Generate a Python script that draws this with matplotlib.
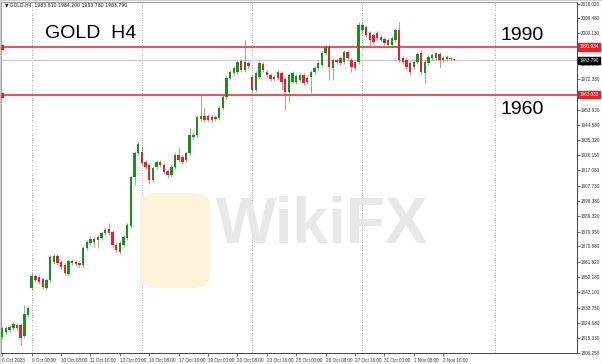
import matplotlib
matplotlib.use("Agg")
import matplotlib.pyplot as plt
import matplotlib.transforms as mtransforms
from matplotlib.patches import FancyBboxPatch, Rectangle
import numpy as np

# ---------------- data ----------------
opens = [1815.96, 1818.99, 1820.21, 1821.42, 1823.24, 1823.24, 1816.56, 1829.31, 1845.69, 1852.98,
         1852.37, 1851.15, 1845.69, 1850.55, 1861.47, 1865.11, 1861.47, 1859.65, 1854.19, 1860.86,
         1861.47, 1860.86, 1859.65, 1869.96, 1873.00, 1875.42, 1874.82, 1876.03, 1879.07, 1881.49,
         1879.67, 1871.78, 1867.54, 1871.78, 1876.03, 1883.31, 1913.05, 1927.61, 1928.22, 1922.15,
         1920.33, 1911.23, 1919.11, 1922.15, 1920.33, 1916.69, 1914.26, 1919.11, 1926.40, 1925.18,
         1923.36, 1927.61, 1937.32, 1938.53, 1948.24, 1950.06, 1950.06, 1949.45, 1948.24, 1948.85,
         1954.91, 1961.59, 1973.12, 1976.15, 1976.76, 1983.44, 1977.97, 1982.22, 1973.73, 1965.84,
         1973.73, 1981.62, 1976.76, 1974.94, 1972.51, 1976.76, 1976.15, 1972.51, 1964.63, 1970.69,
         1970.69, 1971.91, 1974.94, 1973.12, 1973.73, 1976.76, 1979.19, 1981.01, 1988.29, 1991.93,
         1979.19, 1982.83, 1985.26, 1982.83, 1988.90, 1984.04, 1982.83, 1982.83, 2002.25, 2004.07,
         2000.43, 1999.21, 2000.43, 1998.00, 1996.78, 1993.14, 1993.14, 1996.18, 2002.25, 1985.26,
         1984.04, 1982.22, 1979.79, 1982.83, 1988.29, 1976.15, 1982.22, 1985.26, 1985.26, 1987.68,
         1984.04, 1984.65, 1985.26, 1983.81]
highs = [1822.63, 1822.63, 1823.24, 1825.06, 1824.45, 1824.45, 1835.33, 1834.72, 1854.80, 1854.19,
         1853.58, 1852.37, 1851.76, 1865.72, 1866.32, 1866.32, 1862.68, 1860.86, 1863.29, 1863.29,
         1862.68, 1862.08, 1871.18, 1874.82, 1877.25, 1876.64, 1877.85, 1880.28, 1882.10, 1885.13,
         1880.89, 1873.00, 1874.21, 1877.85, 1885.13, 1914.26, 1928.82, 1934.28, 1931.86, 1923.36,
         1921.54, 1919.72, 1923.36, 1923.36, 1921.54, 1917.90, 1920.33, 1927.61, 1931.25, 1926.40,
         1928.82, 1942.78, 1939.74, 1950.67, 1962.80, 1955.52, 1951.27, 1950.67, 1950.67, 1956.14,
         1962.80, 1974.33, 1977.97, 1980.40, 1984.04, 1984.65, 1996.18, 1983.44, 1974.94, 1977.37,
         1983.44, 1982.83, 1977.97, 1976.15, 1974.94, 1977.97, 1977.37, 1973.73, 1976.15, 1977.37,
         1975.55, 1976.15, 1976.15, 1974.33, 1977.97, 1980.40, 1983.44, 1989.50, 1993.14, 1993.14,
         1985.26, 1985.26, 1986.47, 1990.11, 1990.11, 1985.26, 1984.04, 2007.10, 2007.10, 2005.28,
         2001.64, 2000.43, 2001.64, 1999.21, 1998.00, 1997.39, 1998.61, 2003.46, 2007.10, 1986.47,
         1985.26, 1983.44, 1984.04, 1988.90, 1990.11, 1984.04, 1987.08, 1988.29, 1988.90, 1988.90,
         1986.47, 1987.08, 1985.86, 1984.20]
lows = [1814.74, 1817.78, 1818.99, 1820.21, 1820.21, 1811.10, 1815.35, 1828.09, 1844.48, 1849.33,
        1848.12, 1845.08, 1844.48, 1849.33, 1860.26, 1859.65, 1857.22, 1853.58, 1852.98, 1859.65,
        1859.04, 1858.43, 1858.43, 1868.75, 1871.78, 1870.57, 1869.96, 1874.82, 1877.85, 1877.85,
        1870.57, 1867.54, 1866.32, 1870.57, 1874.82, 1882.10, 1908.19, 1926.40, 1920.33, 1917.90,
        1908.80, 1910.01, 1917.90, 1919.11, 1914.87, 1912.44, 1913.05, 1917.90, 1922.15, 1920.93,
        1922.15, 1926.40, 1936.10, 1937.32, 1947.03, 1946.42, 1946.42, 1946.42, 1947.03, 1947.63,
        1953.70, 1960.38, 1971.91, 1974.94, 1975.55, 1976.76, 1976.76, 1979.19, 1964.63, 1964.63,
        1972.51, 1976.76, 1973.73, 1971.30, 1971.30, 1971.91, 1965.84, 1953.70, 1958.56, 1969.48,
        1969.48, 1970.69, 1968.87, 1969.48, 1964.02, 1975.55, 1977.97, 1979.79, 1987.08, 1971.91,
        1971.91, 1981.62, 1981.01, 1981.62, 1984.04, 1976.76, 1977.97, 1981.62, 2001.03, 1998.00,
        1991.93, 1993.75, 1996.18, 1994.96, 1993.14, 1991.93, 1991.93, 1994.96, 1982.83, 1981.62,
        1978.58, 1974.94, 1978.58, 1981.62, 1975.55, 1970.09, 1981.01, 1984.04, 1984.04, 1979.19,
        1982.83, 1983.44, 1984.04, 1983.78]
closes = [1821.42, 1821.42, 1822.03, 1823.85, 1821.42, 1815.35, 1829.91, 1833.51, 1852.98, 1850.55,
          1849.33, 1846.30, 1850.55, 1864.50, 1865.11, 1860.86, 1858.43, 1854.80, 1862.08, 1862.08,
          1860.26, 1859.65, 1869.96, 1873.60, 1875.42, 1873.60, 1876.64, 1879.07, 1880.89, 1879.07,
          1871.78, 1868.75, 1873.00, 1876.64, 1883.92, 1913.05, 1927.61, 1933.07, 1921.54, 1919.11,
          1911.23, 1918.51, 1922.15, 1920.33, 1916.08, 1914.26, 1919.11, 1926.40, 1923.36, 1922.15,
          1927.61, 1938.53, 1938.53, 1949.45, 1950.06, 1947.63, 1947.63, 1947.63, 1949.45, 1954.91,
          1961.59, 1973.12, 1976.76, 1979.19, 1982.83, 1977.97, 1982.83, 1980.40, 1965.84, 1976.15,
          1982.22, 1977.97, 1974.94, 1972.51, 1973.73, 1973.12, 1970.69, 1964.63, 1974.94, 1976.15,
          1974.33, 1974.94, 1970.09, 1970.69, 1976.76, 1979.19, 1982.22, 1988.29, 1991.93, 1979.79,
          1984.04, 1984.04, 1982.22, 1988.90, 1985.26, 1979.79, 1979.19, 2005.28, 2005.28, 1999.21,
          1996.18, 1994.96, 1997.39, 1996.18, 1994.36, 1996.18, 1997.39, 2002.25, 1984.04, 1982.83,
          1979.79, 1976.76, 1982.83, 1987.68, 1976.76, 1982.83, 1985.86, 1987.08, 1988.29, 1984.04,
          1985.26, 1985.86, 1984.65, 1983.79]

time_labels = ["6 Oct 2023", "9 Oct 00:00", "10 Oct 08:00", "11 Oct 16:00", "13 Oct 00:00",
               "16 Oct 08:00", "17 Oct 16:00", "19 Oct 00:00", "20 Oct 08:00", "23 Oct 16:00",
               "25 Oct 00:00", "26 Oct 08:00", "27 Oct 16:00", "31 Oct 00:00", "1 Nov 08:00",
               "2 Nov 16:00"]
label_bars = [0, 8, 16, 24, 32, 40, 48, 56, 64, 72, 80, 88, 96, 104, 112, 120]
separator_bars = [8, 38, 68, 98, 134]

price_ticks = [2018.020, 2009.480, 2000.130, 1981.590, 1972.330, 1953.930, 1944.580, 1935.320,
               1926.150, 1917.080, 1907.730, 1898.380, 1889.320, 1879.950, 1870.880, 1861.520,
               1852.180, 1843.100, 1833.750, 1824.680, 1815.330, 1806.250]
level_lines = [1991.934, 1963.030]
level_texts = ["1990", "1960"]
last_price = 1983.790
header = "\u25BC GOLD,H4  1983.810 1984.200 1983.780 1983.790"

# ---------------- figure ----------------
W, H = 602, 364
fig = plt.figure(figsize=(W / 100, H / 100), dpi=100)
fig.patch.set_facecolor("white")
ax = fig.add_axes([1 / W, 11 / H, 576 / W, 351 / H])
ax.set_xlim(-0.354, 156.42)
ax.set_ylim(1806.25, 2019.24)
ax.patch.set_alpha(0)

GREEN = "#1b8f1b"
RED = "#e3232b"
SMALL = dict(family="Liberation Sans", size=3.3)

# watermark (behind everything)
fig.patches.append(FancyBboxPatch((140 / W, 1 - 288 / H), 70 / W, 95 / H,
                                  boxstyle="round,pad=0.0,rounding_size=0.03",
                                  transform=fig.transFigure, fc="#fcf3da", ec="none",
                                  zorder=0))
fig.text(322 / W, 1 - 226 / H, "WikiFX", fontsize=46, fontweight="bold",
         family="Liberation Sans", color="#e8e8e8", ha="center", va="center", zorder=0.5)

# separators
for b in separator_bars:
    ax.axvline(b, color="#9a9a9a", lw=0.6, ls=(0, (1.2, 1.8)), zorder=1)

# current price line
ax.axhline(last_price, color="#c8c8c8", lw=0.7, zorder=1)

# candles
idx = np.arange(len(opens))
o = np.array(opens); c = np.array(closes); h = np.array(highs); l = np.array(lows)
up = c >= o
cols = np.where(up, GREEN, RED)
ax.vlines(idx, l, h, colors=cols, lw=0.55, zorder=3, alpha=0.7)
body = np.maximum(np.abs(c - o), 0.6)
ax.bar(idx, body, bottom=np.minimum(o, c), width=0.65, color=cols, lw=0, zorder=4)

# level lines
for v in level_lines:
    ax.axhline(v, color=RED, lw=1.1, zorder=5)
    ax.plot([-0.35], [v], marker="s", ms=2.2, color=RED, zorder=6, clip_on=False)

# axes styling
for s in ["top", "left"]:
    ax.spines[s].set_color("#8a8a8a")
    ax.spines[s].set_linewidth(0.6)
for s in ["right", "bottom"]:
    ax.spines[s].set_color("#444444")
    ax.spines[s].set_linewidth(0.7)

ax.yaxis.tick_right()
ax.set_yticks(price_ticks)
ax.set_yticklabels([f"{v:.3f}" for v in price_ticks], fontdict=SMALL)
ax.tick_params(axis="y", length=2, width=0.5, pad=1.0, colors="#333333")
ax.set_xticks(label_bars)
ax.set_xticklabels(time_labels, fontdict=SMALL)
for t in ax.get_xticklabels():
    t.set_horizontalalignment("left")
ax.tick_params(axis="x", length=2, width=0.5, pad=1.5, colors="#333333")

# price boxes on the axis
trans = mtransforms.blended_transform_factory(ax.transAxes, ax.transData)
for v in level_lines:
    ax.text(1.004, v, f"{v:.3f}", transform=trans, color="white",
            ha="left", va="center", zorder=10, clip_on=False, **SMALL,
            bbox=dict(boxstyle="square,pad=0.25", fc=RED, ec=RED))
ax.text(1.004, last_price, f"{last_price:.3f}", transform=trans, color="white",
        ha="left", va="center", zorder=10, clip_on=False, **SMALL,
        bbox=dict(boxstyle="square,pad=0.25", fc="black", ec="black"))

# texts
fig.text(5 / W, 1 - 5 / H, header, fontsize=3.3, color="#222222", ha="left", va="center")
fig.text(45 / W, 1 - 33 / H, "GOLD  H4", fontsize=14, family="Liberation Sans",
         color="black", ha="left", va="center")
fig.text(500 / W, 1 - 35 / H, level_texts[0], fontsize=14, family="Liberation Sans",
         color="black", ha="left", va="center")
fig.text(500 / W, 1 - 110 / H, level_texts[1], fontsize=14, family="Liberation Sans",
         color="black", ha="left", va="center")

fig.patches.append(Rectangle((0, 0), 1, 1, transform=fig.transFigure, fill=False,
                             ec="#d0d0d0", lw=0.8, zorder=20))

fig.savefig("out.png", dpi=100)
